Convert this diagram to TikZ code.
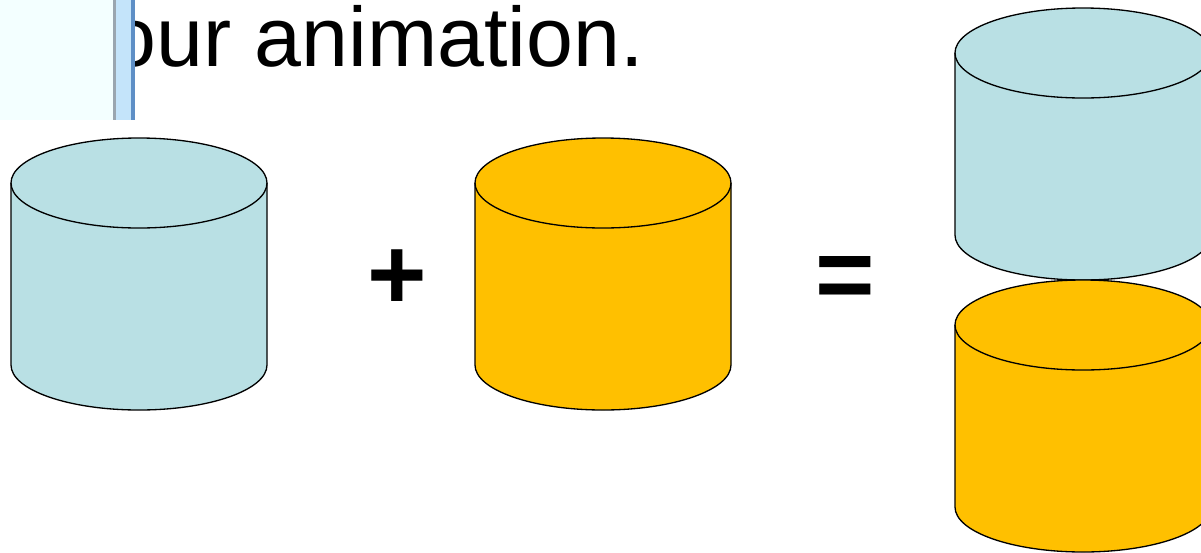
\documentclass[tikz,border=0pt]{standalone}
\usepackage{fontspec}
\setmainfont{Liberation Sans}
\usetikzlibrary{positioning}
\definecolor{drumcyan}{HTML}{B9E0E4}
\definecolor{drumgold}{HTML}{FFC000}
\definecolor{panelfill}{HTML}{F3FFFF}
\definecolor{barfill}{HTML}{C4E4FA}
\definecolor{baredge}{HTML}{5E8FC6}
\definecolor{bargray}{HTML}{9AA6B0}

\begin{document}
\begin{tikzpicture}[
  x=0.02cm, y=0.02cm,
  line width=0.75pt,
  captiontext/.style={inner sep=0, anchor=base west, font=\fontsize{48}{48}\selectfont},
  opsign/.style={inner sep=0, font=\fontsize{58}{58}\selectfont\bfseries},
  pics/drum/.style={code={
    \draw[fill=#1] (-128,0) -- (-128,-182)
      arc[start angle=180, end angle=360, x radius=128, y radius=45]
      -- (128,0) arc[start angle=0, end angle=180, x radius=128, y radius=45] -- cycle;
    \draw (-128,0) arc[start angle=180, end angle=360, x radius=128, y radius=45];
  }},
]
\useasboundingbox (0,0) rectangle (1201,-552);
\clip (0,0) rectangle (1201,-552);

% caption, partly hidden behind the panel
\node[captiontext] (caption) at (109,-66) {our animation.};

% panel and its edge bar
\fill[panelfill] (0,0) rectangle (113,-120);
\fill[bargray] (113,0) rectangle (116,-120);
\fill[barfill] (116,0) rectangle (131,-120);
\fill[baredge] (131,0) rectangle (135,-120);

% left side: two drums and the signs
\pic at (139,-183) {drum=drumcyan};
\node[opsign] (plus) at (397,-280) {+};
\pic at (603,-183) {drum=drumgold};
\node[opsign] (equals) at (845,-283) {=};

% right side: the stacked result
\pic at (1083,-53) {drum=drumcyan};
\pic at (1083,-325) {drum=drumgold};

\end{tikzpicture}
\end{document}
